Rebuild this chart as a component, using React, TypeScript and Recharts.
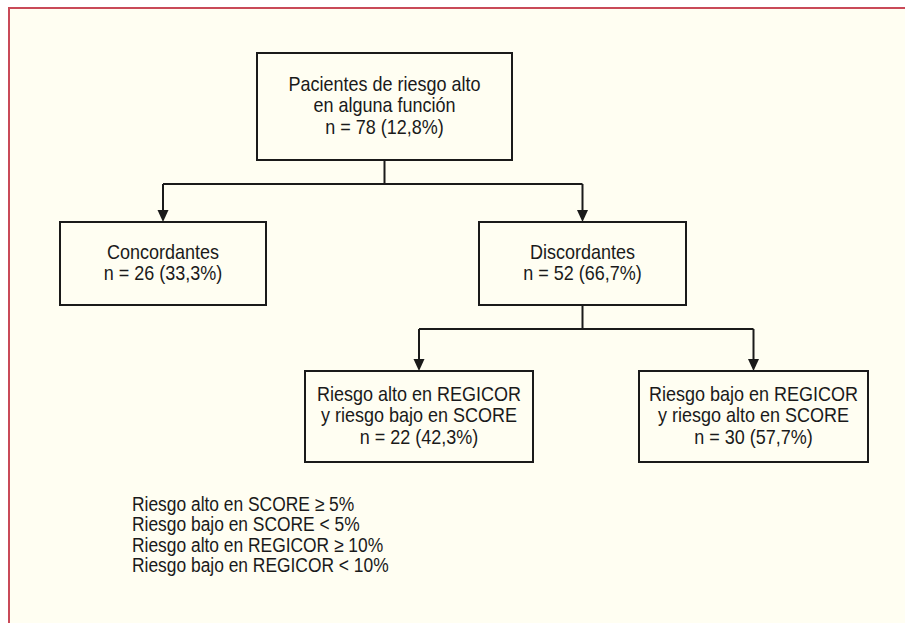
import { ScatterChart, Scatter, XAxis, YAxis, ReferenceLine } from "recharts";

// flowchart nodes (text lines) and their centres in chart units (= pixels here)
const nodeLabels: string[][] = [
  ["Pacientes de riesgo alto", "en alguna función", "n = 78 (12,8%)"],
  ["Concordantes", "n = 26 (33,3%)"],
  ["Discordantes", "n = 52 (66,7%)"],
  ["Riesgo alto en REGICOR", "y riesgo bajo en SCORE", "n = 22 (42,3%)"],
  ["Riesgo bajo en REGICOR", "y riesgo alto en SCORE", "n = 30 (57,7%)"],
];
const nodeX = [384.5, 163, 582.5, 419, 753.5];
const nodeY = [106.5, 263.5, 263.5, 416.5, 416.5];

// parent -> children
const links: [number, number[]][] = [
  [0, [1, 2]],
  [2, [3, 4]],
];

const notes = [
  "Riesgo alto en SCORE ≥ 5%",
  "Riesgo bajo en SCORE < 5%",
  "Riesgo alto en REGICOR ≥ 10%",
  "Riesgo bajo en REGICOR < 10%",
];

// layout
const W = 905;
const H = 623;
const boxW = [255, 206, 207, 228, 229];
const boxH = [107, 83, 83, 91, 91];
const LINE_H = 21.5;
const FONT = "'Liberation Sans', Arial, Helvetica, sans-serif";
const SQUEEZE = 0.9; // condensed look
const INK = "#1a1a1a";
const CREAM = "#fffef2";
const BUS_GAP = 24;
const ARROW_H = 12;

const nodes = nodeLabels.map((lines, i) => ({ i, x: nodeX[i], y: nodeY[i], lines }));

const segments: { x1: number; y1: number; x2: number; y2: number }[] = [];
const arrows: { x: number; y: number }[] = [];
links.forEach(([p, kids]) => {
  const bottom = nodeY[p] + boxH[p] / 2;
  const bus = bottom + BUS_GAP;
  segments.push({ x1: nodeX[p], y1: bottom, x2: nodeX[p], y2: bus });
  const xs = kids.map((k) => nodeX[k]);
  segments.push({ x1: Math.min(...xs), y1: bus, x2: Math.max(...xs), y2: bus });
  kids.forEach((k) => {
    const top = nodeY[k] - boxH[k] / 2;
    segments.push({ x1: nodeX[k], y1: bus, x2: nodeX[k], y2: top - ARROW_H + 1 });
    arrows.push({ x: nodeX[k], y: top });
  });
});

const noteAnchor = [{ x: 132, y: 511 }];

function BoxShape(props: any) {
  const { cx, cy, payload } = props;
  const w = boxW[payload.i];
  const h = boxH[payload.i];
  const n = payload.lines.length;
  const y0 = cy + 6 - ((n - 1) / 2) * LINE_H;
  return (
    <g>
      <rect x={cx - w / 2} y={cy - h / 2} width={w} height={h} fill={CREAM} stroke={INK} strokeWidth={2} />
      <text
        transform={`translate(${cx},${y0}) scale(${SQUEEZE},1)`}
        textAnchor="middle"
        fontFamily={FONT}
        fontSize={20}
        fill={INK}
      >
        {payload.lines.map((t: string, j: number) => (
          <tspan key={j} x={0} dy={j === 0 ? 0 : LINE_H}>
            {t}
          </tspan>
        ))}
      </text>
    </g>
  );
}

function ArrowShape(props: any) {
  const { cx, cy } = props;
  return <path d={`M${cx - 5.5},${cy - ARROW_H} L${cx + 5.5},${cy - ARROW_H} L${cx},${cy} Z`} fill={INK} />;
}

function NotesShape(props: any) {
  const { cx, cy } = props;
  return (
    <text transform={`translate(${cx},${cy}) scale(0.87,1)`} fontFamily={FONT} fontSize={20} fill={INK}>
      {notes.map((t, j) => (
        <tspan key={j} x={0} dy={j === 0 ? 0 : 20.5}>
          {t}
        </tspan>
      ))}
    </text>
  );
}

export default function App() {
  return (
    <div style={{ position: "absolute", left: 0, top: 0, width: W, height: H, background: "#fff", overflow: "hidden" }}>
      <div
        style={{
          position: "absolute",
          left: 8,
          top: 7,
          right: 0,
          bottom: 0,
          background: CREAM,
          borderTop: "2px solid #c94a58",
          borderLeft: "2px solid #c94a58",
        }}
      />
      <div style={{ position: "absolute", left: 0, top: 0 }}>
        <ScatterChart width={W} height={H} margin={{ top: 0, right: 0, bottom: 0, left: 0 }}>
          <XAxis type="number" dataKey="x" domain={[0, W]} hide />
          <YAxis type="number" dataKey="y" domain={[0, H]} reversed hide />
          {segments.map((s, k) => (
            <ReferenceLine
              key={k}
              segment={[{ x: s.x1, y: s.y1 }, { x: s.x2, y: s.y2 }]}
              stroke={INK}
              strokeWidth={2}
              ifOverflow="visible"
            />
          ))}
          <Scatter data={arrows} shape={ArrowShape} isAnimationActive={false} />
          <Scatter data={nodes} shape={BoxShape} isAnimationActive={false} />
          <Scatter data={noteAnchor} shape={NotesShape} isAnimationActive={false} />
        </ScatterChart>
      </div>
    </div>
  );
}
